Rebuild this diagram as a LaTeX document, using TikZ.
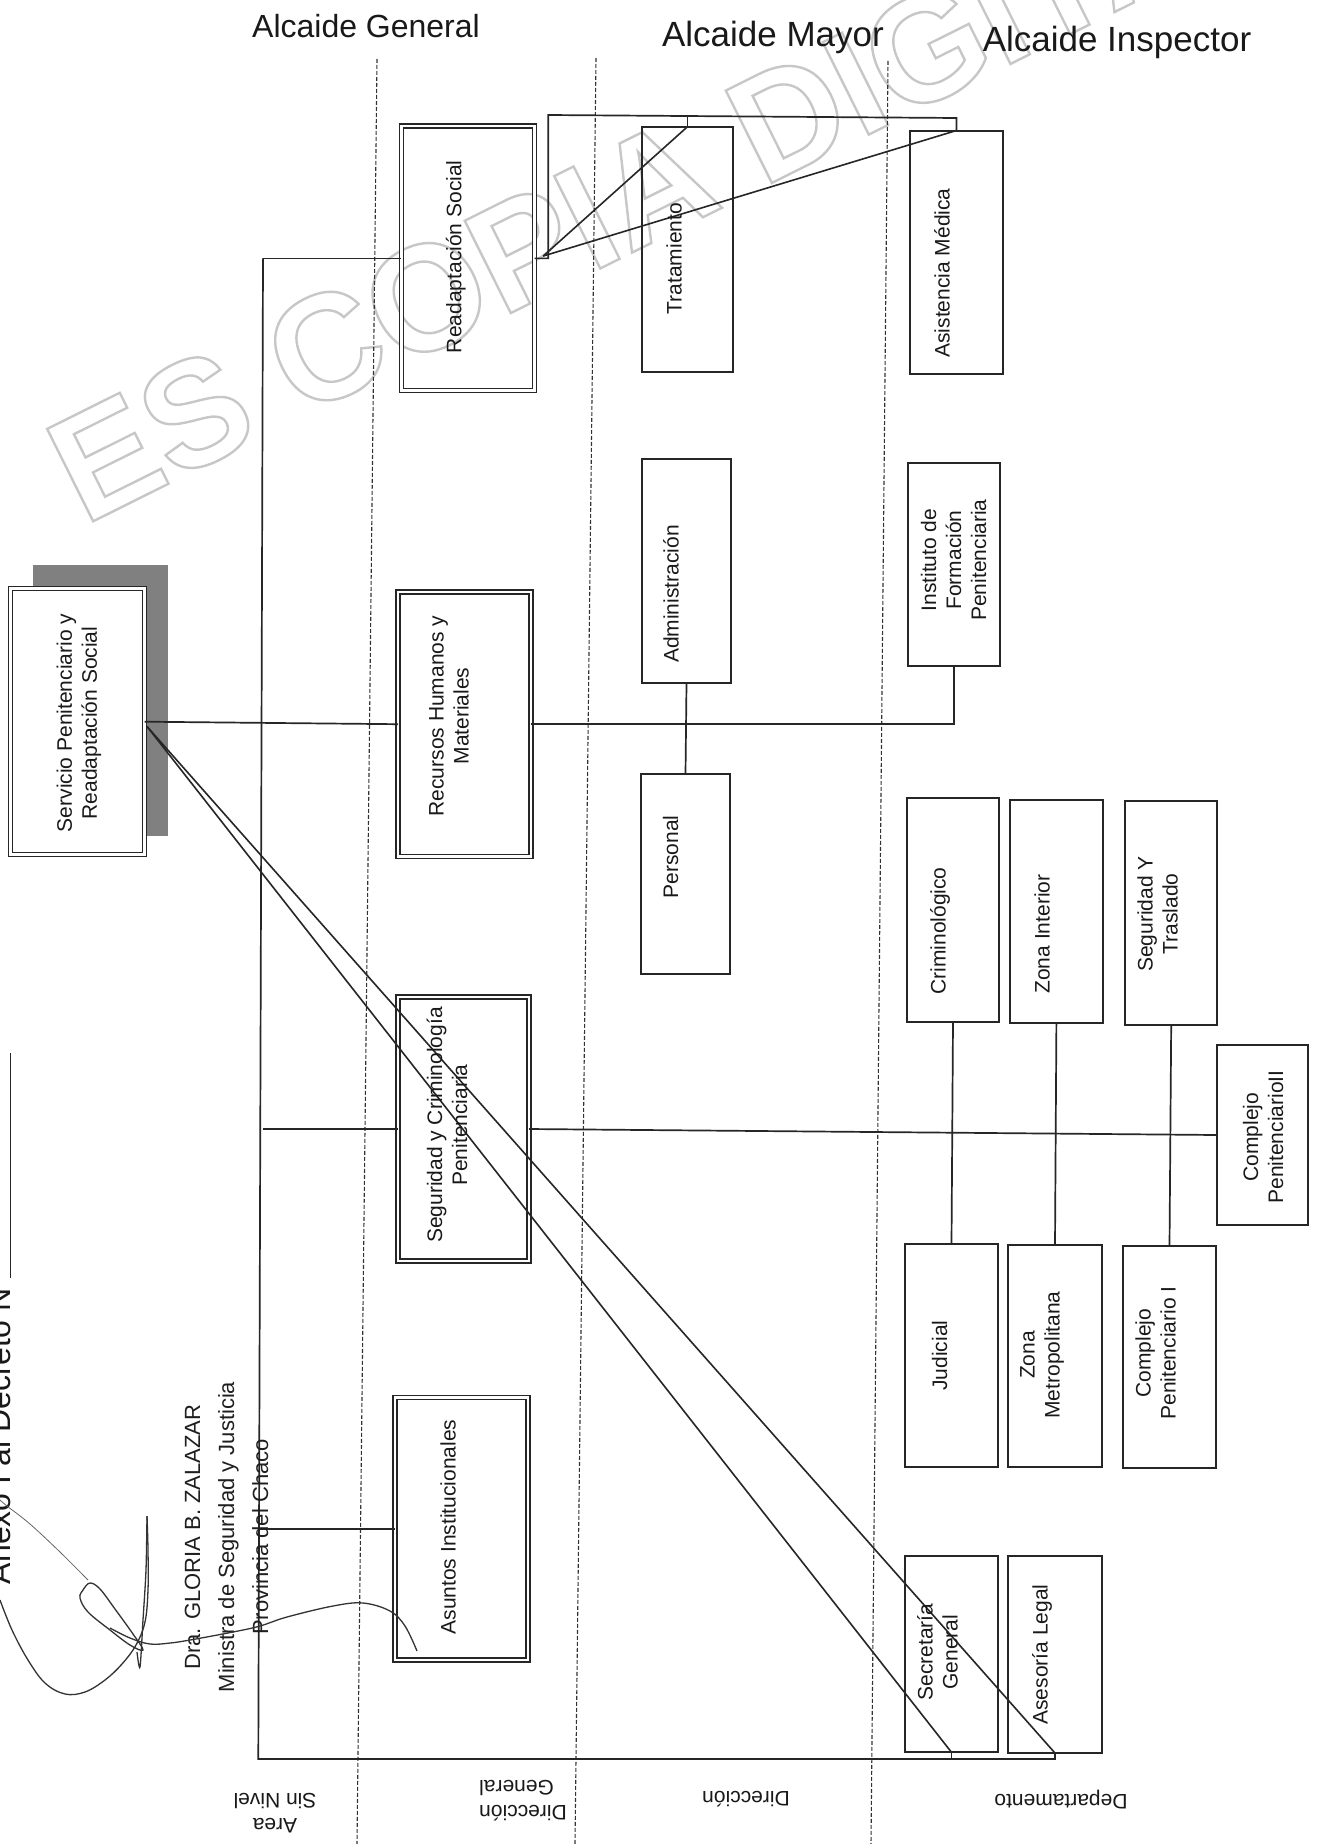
\documentclass[tikz,border=0pt]{standalone}
\usepackage{fontspec}
\setmainfont{Liberation Sans}
\usetikzlibrary{calc}
\begin{document}
\begin{tikzpicture}[x=1pt,y=-1pt,
  ln/.style={draw=black!85, line width=1.7pt},
  diag/.style={draw=black!85, line width=1.6pt},
  sepline/.style={draw=black!80, line width=1.1pt, dash pattern=on 4pt off 2pt},
  sbox/.style={draw=black!85, line width=2pt, inner sep=0pt, outer sep=0pt},
  dbox/.style={draw=black!85, double=white, double distance=2.8pt, line width=1.2pt, inner sep=0pt, outer sep=0pt},
  lbl/.style={rotate=90, align=center, inner sep=0pt, text=black!90, font=\fontsize{21}{25}\selectfont},
  lbld/.style={rotate=180, align=center, inner sep=0pt, text=black!90, font=\fontsize{21}{25}\selectfont},
  hdr/.style={inner sep=0pt, text=black!90},
  sig/.style={draw=black!80, line width=1.3pt},
  wm/.style={rotate=26.5, inner sep=0pt, font=\fontsize{150}{150}\bfseries\selectfont}
]
\useasboundingbox (0,0) rectangle (1320,1844);
\fill[white] (0,0) rectangle (1320,1844);

% watermark (outlined text: PDF text render mode 1 = stroke only)
\node[wm, text=black!22] (wmark) at (664,179) {\special{pdf:literal direct 1 Tr 2.4 w}ES COPIA DIGITAL\special{pdf:literal direct 0 Tr}};

% headers
\node[hdr, font=\fontsize{32}{38}\selectfont] (hG) at (366,26) {Alcaide General};
\node[hdr, font=\fontsize{35}{40}\selectfont] (hM) at (773,37) {Alcaide Mayor};
\node[hdr, font=\fontsize{35}{40}\selectfont] (hI) at (1117,42) {Alcaide Inspector};

% dashed level separators
\coordinate (d1t) at (377,59);  \coordinate (d1b) at (357,1844);
\coordinate (d2t) at (596,58);  \coordinate (d2b) at (575,1844);
\coordinate (d3t) at (888,61);  \coordinate (d3b) at (871,1844);
\draw[sepline] (d1t) -- (d1b);
\draw[sepline] (d2t) -- (d2b);
\draw[sepline] (d3t) -- (d3b);

% shadow + main box
\node[fill=black!50, inner sep=0pt, outer sep=0pt, minimum width=135.6pt, minimum height=271pt] (shad) at (100.5,700.5) {};
\node[dbox, fill=white, minimum width=134.4pt, minimum height=266pt] (serv) at (77.5,721.7) {};

% Direccion General boxes (double)
\node[dbox, minimum width=133.4pt, minimum height=264.7pt] (read) at (468,258.35) {};
\node[dbox, minimum width=133pt, minimum height=264.3pt] (recu) at (464.5,724.2) {};
\node[dbox, minimum width=131pt, minimum height=264pt] (segu) at (463.5,1129) {};
\node[dbox, minimum width=133pt, minimum height=262.3pt] (asun) at (461.5,1528.9) {};

% Direccion boxes
\node[sbox, minimum width=91.6pt, minimum height=245pt] (trat) at (687.5,249.2) {};
\node[sbox, minimum width=89pt, minimum height=224.3pt] (admi) at (686.5,570.9) {};
\node[sbox, minimum width=89pt, minimum height=199.7pt] (pers) at (685.5,874) {};

% Departamento boxes
\node[sbox, minimum width=93pt, minimum height=243.2pt] (asis) at (956.5,252.1) {};
\node[sbox, minimum width=92.5pt, minimum height=203pt] (inst) at (953.75,564) {};
\node[sbox, minimum width=92.6pt, minimum height=223.7pt] (crim) at (953,909.9) {};
\node[sbox, minimum width=92.7pt, minimum height=223pt] (zint) at (1056.4,911.5) {};
\node[sbox, minimum width=92.3pt, minimum height=224.3pt] (segt) at (1171.2,912.9) {};
\node[sbox, minimum width=91.3pt, minimum height=180pt] (comp2) at (1262.4,1135) {};
\node[sbox, minimum width=93pt, minimum height=222.7pt] (judi) at (951.5,1355.4) {};
\node[sbox, minimum width=94pt, minimum height=222pt] (zmet) at (1055,1356) {};
\node[sbox, minimum width=93pt, minimum height=222pt] (comp1) at (1169.5,1357) {};
\node[sbox, minimum width=93pt, minimum height=196.6pt] (secr) at (951.5,1654) {};
\node[sbox, minimum width=94pt, minimum height=197.3pt] (ases) at (1055,1654.4) {};

% connectors
\coordinate (tTop) at (263,258.35);
\coordinate (tBot) at (258.3,1759);
\draw[ln] (tTop) -- (read.west);
\draw[ln] (tTop) -- (tBot) -- (tBot -| ases.south) -- (ases.south);
\draw[ln] (secr.south) -- (secr.south |- tBot);
\draw[ln] (serv.east) -- (recu.west);
\draw[ln] (recu.east) -- (recu.east -| inst.south) -- (inst.south);
\draw[ln] (admi.south) -- (pers.north);
\draw[ln] (segu.west -| tTop) -- (segu.west);
\draw[ln] (segu.east) -- (comp2.west);
\draw[ln] (crim.south) -- (judi.north);
\draw[ln] (zint.south) -- (zmet.north);
\draw[ln] (segt.south) -- (comp1.north);
\draw[ln] (asun.west -| tBot) -- (asun.west);
\coordinate (topL) at (548.3,115);
\coordinate (topR) at (956.5,118);
\draw[ln] (read.east) -- (read.east -| topL) -- (topL) -- (topR) -- (asis.north);
\draw[ln] (trat.north |- topL) -- (trat.north);
\coordinate (rc) at ($(read.east)+(8.5,-2.3)$);
\draw[diag] (rc) -- (trat.north);
\draw[diag] (rc) -- (asis.north);
\coordinate (sc) at ($(serv.east)+(2.5,5)$);
\draw[diag] (sc) -- (secr.south);
\draw[diag] (sc) -- (ases.south);

% box labels
\node[lbl] (tserv) at (79,723) {Servicio Penitenciario y\\Readaptación Social};
\node[lbl] (tread) at (455.7,256.7) {Readaptación Social};
\node[lbl] (trecu) at (449,716) {Recursos Humanos y\\Materiales};
\node[lbl] (tsegu) at (447,1125) {Seguridad y Criminología\\Penitenciaria};
\node[lbl] (tasun) at (448,1527) {Asuntos Institucionales};
\node[lbl] (ttrat) at (674,258.7) {Tratamiento};
\node[lbl] (tadmi) at (671,594) {Administración};
\node[lbl] (tpers) at (670.5,857) {Personal};
\node[lbl] (tasis) at (942,273) {Asistencia Médica};
\node[lbl] (tinst) at (953.5,560) {Instituto de\\Formación\\Penitenciaria};
\node[lbl] (tcrim) at (940,931) {Criminológico};
\node[lbl] (tzint) at (1042,934) {Zona Interior};
\node[lbl] (tsegt) at (1157.5,914) {Seguridad Y\\Traslado};
\node[lbl] (tcomp2) at (1263,1137) {Complejo\\PenitenciarioII};
\node[lbl] (tjudi) at (939.5,1355.5) {Judicial};
\node[lbl] (tzmet) at (1042,1355) {Zona\\Metropolitana};
\node[lbl] (tcomp1) at (1155.6,1353) {Complejo\\Penitenciario I};
\node[lbl] (tsecr) at (937.5,1652) {Secretaría\\General};
\node[lbl] (tases) at (1042,1654.5) {Asesoría Legal};

% level labels (upside down)
\node[lbld] (bA) at (275,1813.5) {Area\\Sin Nivel};
\node[lbld, align=right] (bDG) at (523,1800.5) {Dirección\\General};
\node[lbld] (bD) at (746,1799) {Dirección};
\node[lbld] (bDep) at (1061,1800) {Departamento};

% annex title (cut at the left edge)
\node[rotate=90, anchor=base west, inner sep=0pt, outer sep=0pt, text=black!90, font=\fontsize{32}{38}\selectfont] (anexo) at (10,1584) {Anexo I al Decreto N};
\coordinate (anexoL) at (10.5,1278);
\draw[line width=1.5pt, draw=black!85] (anexoL) -- ++(0,-225);

% signature block
\node[rotate=90, align=center, inner sep=0pt, text=black!88, font=\fontsize{22}{34}\selectfont] (firma) at (226.5,1537) {Dra. GLORIA B. ZALAZAR\\Ministra de Seguridad y Justicia\\Provincia del Chaco};
\draw[draw=black!60, line width=0.8pt] plot[smooth, tension=0.6] coordinates {(0,1500) (7,1506) (30,1524) (60,1552) (88,1580)};
\draw[sig] plot[smooth, tension=0.6] coordinates {(0,1600) (12,1630) (28,1660) (45,1683) (65,1694) (85,1692) (105,1680) (122,1664) (136,1645) (145,1622) (148,1590) (148,1550) (147,1516)};
\draw[sig] plot[smooth, tension=0.5] coordinates {(147,1516) (146,1570) (143,1620) (140,1667) (137,1652)};
\draw[sig] plot[smooth cycle, tension=0.6] coordinates {(83,1590) (90,1583) (100,1589) (115,1609) (133,1634) (143,1650) (130,1645) (110,1630) (88,1612) (80,1598)};
\draw[sig] plot[smooth, tension=0.6] coordinates {(110,1628) (130,1638) (150,1644) (170,1643) (190,1640) (233,1632) (260,1626) (287,1617) (333,1606) (363,1603) (390,1611) (405,1626) (417,1651)};
\end{tikzpicture}
\end{document}
